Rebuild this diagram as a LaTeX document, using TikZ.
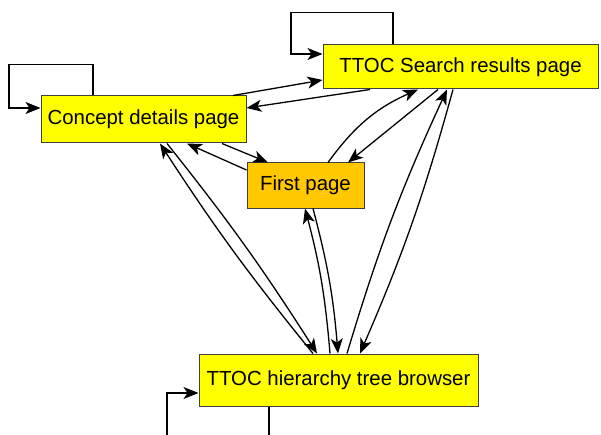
\documentclass[tikz,border=0pt]{standalone}
\usepackage{fontspec}
\setmainfont{Liberation Sans}
\usepackage{tikz}
\usetikzlibrary{positioning,arrows.meta}

\definecolor{pageyellow}{RGB}{255,255,0}
\definecolor{startorange}{RGB}{255,200,0}

\begin{document}
\begin{tikzpicture}[
    x=1pt, y=1pt,
    page/.style={rectangle, draw=black!75, line width=1pt, fill=pageyellow, inner sep=0pt,
                 align=center, font=\fontsize{20.4}{24}\selectfont},
    startpage/.style={page, fill=startorange},
    arrow/.style={-{Stealth[length=15pt,width=12pt,inset=4pt]}, line width=1.3pt},
  ]
    \useasboundingbox (0,0) rectangle (601,434);
    \clip (0,0) rectangle (601,434);

    \node[page, minimum width=205pt, minimum height=47pt] (concept) at (143.5,314.5) {Concept details page};
    \node[page, minimum width=275pt, minimum height=44pt] (search) at (460.5,367) {TTOC Search results page};
    \node[startpage, minimum width=117pt, minimum height=45pt] (first) at (305.5,248.5) {First page};
    \node[page, minimum width=279pt, minimum height=52pt] (tree) at (338.5,54) {TTOC hierarchy tree browser};

    % self loops
    \draw[arrow] ([xshift=-50.5pt]concept.north) -- ++(0,31) -- ++(-84,0) |- ([yshift=11.5pt]concept.west);
    \draw[arrow] ([xshift=-67.5pt]search.north) -- ++(0,32) -- ++(-102,0) |- ([yshift=13pt]search.west);
    \draw[arrow] ([xshift=-69.5pt]tree.south) -- ++(0,-40) -- ++(-102,0) |- ([yshift=-13pt]tree.west);

    % concept <-> search
    \draw[arrow] ([xshift=89.5pt]concept.north) -- ([yshift=-13pt]search.west);
    \draw[arrow] ([xshift=-90.5pt]search.south) -- ([yshift=11.5pt]concept.east);

    % concept <-> first
    \draw[arrow] ([xshift=78.5pt]concept.south) -- ([xshift=-37.5pt]first.north);
    \draw[arrow] ([yshift=15.5pt]first.west) -- ([xshift=43.5pt]concept.south);

    % first <-> search
    \draw[arrow] ([xshift=22.5pt]first.north) to[bend left=15] ([xshift=-42.5pt]search.south);
    \draw[arrow] ([xshift=-22.5pt]search.south) -- ([xshift=42.5pt]first.north);

    % tree <-> concept
    \draw[arrow] ([xshift=-25.5pt]tree.north) to[bend left=3] ([xshift=16.5pt]concept.south);
    \draw[arrow] ([xshift=23.5pt]concept.south) to[bend left=3] ([xshift=-21.5pt]tree.north);

    % tree <-> first
    \draw[arrow] ([xshift=-8.5pt]tree.north) to[bend right=5] ([xshift=-0.5pt]first.south);
    \draw[arrow] ([xshift=7.5pt]first.south) to[bend left=5] ([xshift=-0.5pt]tree.north);

    % tree <-> search
    \draw[arrow] ([xshift=8.5pt]tree.north) to[bend left=4] ([xshift=-13.5pt]search.south);
    \draw[arrow] ([xshift=-7.5pt]search.south) to[bend left=4] ([xshift=21.5pt]tree.north);
  \end{tikzpicture}
\end{document}
